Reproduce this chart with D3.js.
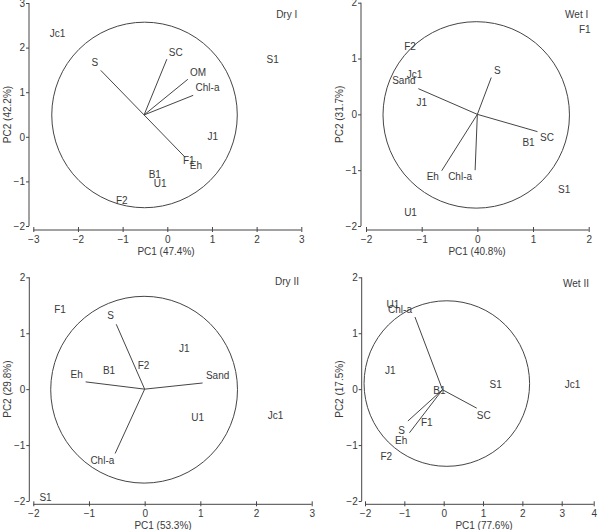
<!DOCTYPE html>
<html><head><meta charset="utf-8">
<script src="https://cdn.jsdelivr.net/npm/d3@7"></script>
<style>body{margin:0;background:#fff}</style>
</head><body><svg id="c" width="600" height="530"></svg>
<script>
// ---------- data ----------
const panelTitles = ["Dry I", "Wet I", "Dry II", "Wet II"];
const xAxisTitles = ["PC1 (47.4%)", "PC1 (40.8%)", "PC1 (53.3%)", "PC1 (77.6%)"];
const yAxisTitles = ["PC2 (42.2%)", "PC2 (31.7%)", "PC2 (29.8%)", "PC2 (17.5%)"];
const xTickValues = [[-3,-2,-1,0,1,2,3], [-2,-1,0,1,2], [-2,-1,0,1,2,3], [-2,-1,0,1,2,3,4]];
const yTickValues = [[-2,-1,0,1,2,3], [-2,-1,0,1,2], [-2,-1,0,1,2], [-2,-1,0,1,2]];

// sites: [name, PC1, PC2]
const dryISites = [["Jc1",-2.46,2.31],["S1",2.36,1.73],["J1",1.02,0.0],["F1",0.48,-0.54],["B1",-0.28,-0.84],["U1",-0.16,-1.04],["F2",-1.02,-1.43]];
const wetISites = [["F1",1.93,1.52],["F2",-1.21,1.21],["Jc1",-1.13,0.72],["J1",-1.0,0.22],["B1",0.92,-0.51],["S1",1.56,-1.34],["U1",-1.2,-1.76]];
const dryIISites = [["F1",-1.52,1.43],["J1",0.71,0.72],["F2",-0.02,0.43],["B1",-0.64,0.33],["U1",0.95,-0.50],["Jc1",2.35,-0.48],["S1",-1.78,-1.94]];
const wetIISites = [["U1",-1.29,1.51],["J1",-1.36,0.33],["S1",1.32,0.09],["Jc1",3.34,0.09],["B1",-0.11,-0.03],["F1",-0.43,-0.60],["F2",-1.46,-1.20]];

// variable vectors: [name, endPC1, endPC2, labelPC1, labelPC2]
const dryIVectors = [["S",-1.49,1.49,-1.62,1.66],["SC",-0.01,1.74,0.19,1.90],["OM",0.46,1.29,0.69,1.45],["Chl-a",0.58,0.93,0.90,1.10],["Eh",0.40,-0.46,0.64,-0.65]];
const wetIVectors = [["S",0.25,0.66,0.36,0.78],["Sand",-1.06,0.46,-1.32,0.60],["SC",1.08,-0.31,1.25,-0.42],["Eh",-0.64,-1.01,-0.80,-1.12],["Chl-a",-0.04,-1.0,-0.31,-1.12]];
const dryIIVectors = [["S",-0.51,1.16,-0.61,1.31],["Eh",-1.06,0.13,-1.22,0.26],["Sand",1.04,0.11,1.31,0.24],["Chl-a",-0.53,-1.15,-0.76,-1.28]];
const wetIIVectors = [["Chl-a",-0.73,1.29,-1.11,1.43],["SC",0.84,-0.34,1.02,-0.47],["S",-0.91,-0.57,-1.07,-0.74],["Eh",-0.87,-0.78,-1.08,-0.91]];

// vector origins [PC1, PC2] and correlation circles [cx, cy, r]
const vectorOrigins = [[-0.52,0.49],[0,0],[0,0],[-0.03,-0.01]];
const circles = [[-0.51,0.49,2.08],[-0.02,-0.01,1.67],[-0.01,-0.01,1.67],[0.08,0.10,1.48]];

const sitesAll = [dryISites, wetISites, dryIISites, wetIISites];
const vectorsAll = [dryIVectors, wetIVectors, dryIIVectors, wetIIVectors];

// ---------- layout (pixels) ----------
const layout = [
  {yAxisX:29,   xAxisY:230,   xStops:[-3,3],   xPix:[33.3,301.3],        yStops:[-2,3], yPix:[226,3],     xTitleX:166, titleX:286.7, titleY:14.3},
  {yAxisX:361,  xAxisY:230,   xStops:[-2,2],   xPix:[366,588.7],         yStops:[-2,2], yPix:[226,2.7],   xTitleX:477, titleX:576.7, titleY:14},
  {yAxisX:29.3, xAxisY:504.3, xStops:[-2,3],   xPix:[33.3,311.7],        yStops:[-2,2], yPix:[501,277.3], xTitleX:163, titleX:287,   titleY:281.7},
  {yAxisX:361.7,xAxisY:504.3, xStops:[-2,3,4], xPix:[365,561.7,593.7],   yStops:[-2,2], yPix:[501,277.3], xTitleX:484, titleX:576,   titleY:283}
];

const FONT = "'Liberation Sans', Arial, sans-serif";
const TXT = "#3a3a3a", LINE = "#454545";
const svg = d3.select("#c");

layout.forEach((L, i) => {
  const x = d3.scaleLinear().domain(L.xStops).range(L.xPix);
  const y = d3.scaleLinear().domain(L.yStops).range(L.yPix);
  const g = svg.append("g").attr("font-family", FONT).attr("font-size", 10).attr("fill", TXT);

  // x axis
  const xa = g.append("g").attr("transform", `translate(0,${L.xAxisY})`)
    .call(d3.axisBottom(x).tickValues(xTickValues[i]).tickSize(3).tickFormat(d3.format("d")));
  // y axis
  const ya = g.append("g").attr("transform", `translate(${L.yAxisX},0)`)
    .call(d3.axisLeft(y).tickValues(yTickValues[i]).tickSize(3).tickFormat(d3.format("d")));
  [xa, ya].forEach(a => {
    a.select(".domain").attr("stroke", LINE).attr("stroke-width", 1);
    a.selectAll(".tick line").attr("stroke", LINE);
    a.selectAll(".tick text").attr("fill", TXT).attr("font-family", FONT).attr("font-size", 10);
    a.attr("font-family", FONT).attr("font-size", 10);
  });
  xa.selectAll(".tick line").attr("y1", -3).attr("y2", 2);
  xa.selectAll(".tick text").attr("y", 6);
  ya.selectAll(".tick text").attr("x", -4);
  // remove outer tick bends on domain
  xa.select(".domain").attr("d", `M${x.range()[0]},0H${x.range()[x.range().length-1]}`);
  ya.select(".domain").attr("d", `M0,${y.range()[0]}V${y.range()[1]}`);

  // axis titles
  g.append("text").attr("x", L.xTitleX).attr("y", L.xAxisY + 25)
    .attr("text-anchor", "middle").text(xAxisTitles[i]);
  const ymid = (L.yPix[0] + L.yPix[1]) / 2;
  g.append("text").attr("transform", `translate(${L.yAxisX - 22},${ymid}) rotate(-90)`)
    .attr("text-anchor", "middle").attr("dy", "0.35em").text(yAxisTitles[i]);

  // panel title
  g.append("text").attr("x", L.titleX).attr("y", L.titleY).attr("dy", "0.35em")
    .attr("text-anchor", "middle").text(panelTitles[i]);

  // circle
  const c = circles[i];
  g.append("circle").attr("cx", x(c[0])).attr("cy", y(c[1]))
    .attr("r", Math.abs(y(0) - y(c[2]))).attr("fill", "none")
    .attr("stroke", LINE).attr("stroke-width", 1);

  // vectors
  const o = vectorOrigins[i];
  g.selectAll("line.vec").data(vectorsAll[i]).join("line").attr("class", "vec")
    .attr("x1", x(o[0])).attr("y1", y(o[1]))
    .attr("x2", d => x(d[1])).attr("y2", d => y(d[2]))
    .attr("stroke", LINE).attr("stroke-width", 1);
  g.selectAll("text.vlab").data(vectorsAll[i]).join("text").attr("class", "vlab")
    .attr("x", d => x(d[3])).attr("y", d => y(d[4])).attr("dy", "0.35em")
    .attr("text-anchor", "middle").text(d => d[0]);

  // sites
  g.selectAll("text.site").data(sitesAll[i]).join("text").attr("class", "site")
    .attr("x", d => x(d[1])).attr("y", d => y(d[2])).attr("dy", "0.35em")
    .attr("text-anchor", "middle").text(d => d[0]);
});
</script>
</body></html>
